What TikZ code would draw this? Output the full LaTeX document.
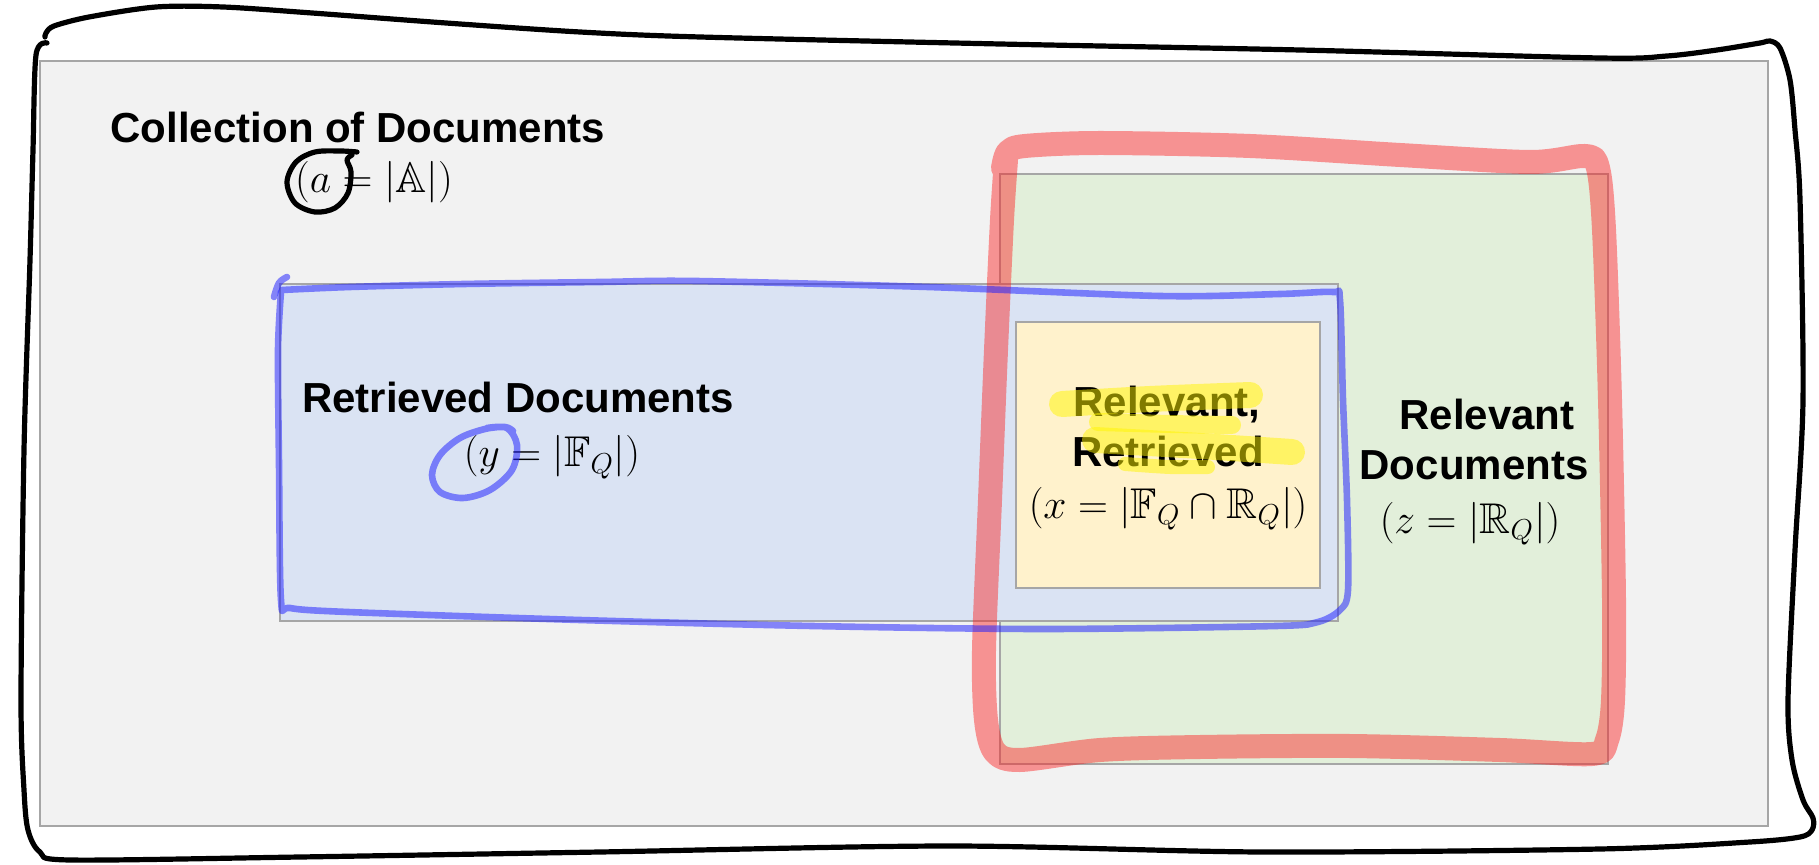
\documentclass[tikz,border=0pt]{standalone}
\usepackage{fontspec}
\setmainfont{Liberation Sans}
\usepackage{amssymb}
\definecolor{pagegray}{HTML}{F2F2F2}
\definecolor{boxline}{HTML}{A6A6A6}
\definecolor{retfill}{HTML}{DAE3F3}
\definecolor{relfill}{HTML}{E2EFDA}
\definecolor{bothfill}{HTML}{FFF2CC}
\definecolor{inkred}{RGB}{253,30,30}
\definecolor{inkblue}{RGB}{30,30,255}
\definecolor{marker}{RGB}{255,245,0}
\begin{document}
\begin{tikzpicture}[x=0.5pt,y=-0.5pt,
  box/.style={draw=boxline, line width=1.25pt},
  lbl/.style={font=\fontsize{21}{25}\selectfont\bfseries, inner sep=0pt, anchor=base},
  eq/.style={font=\fontsize{21.5}{25}\selectfont, inner sep=0pt, anchor=base},
  penblack/.style={draw=black, line width=2.6pt, line cap=round, line join=round},
  penred/.style={draw=inkred, draw opacity=0.45, line width=12pt, line cap=round, line join=round},
  penblue/.style={draw=inkblue, draw opacity=0.52, line width=3.3pt, line cap=round, line join=round},
  highlighter/.style={draw=marker, draw opacity=0.5, line width=13pt, line cap=round, line join=round}]
\useasboundingbox (0,0) rectangle (1819,865);

% sets as boxes
\fill[pagegray] (40,61) rectangle (1768,826);
\draw[box] (40,61) rectangle (1768,826);
\filldraw[box, fill=relfill] (1000,174) rectangle (1608,764);
\filldraw[box, fill=retfill] (280,284) rectangle (1338,621);
\filldraw[box, fill=bothfill] (1016,322) rectangle (1320,588);

% labels
\node[lbl] (colltxt) at (358,143) {Collection of Documents};
\node[eq]  (colleq)  at (374,193) {$(a = |\mathbb{A}|)$};
\node[lbl] (rettxt)  at (518,413) {Retrieved Documents};
\node[eq]  (reteq)   at (552,467) {$(y = \bigl|\mathbb{F}_Q\bigr|)$};
\node[lbl] (bothtxtA) at (1167,417) {Relevant,};
\node[lbl] (bothtxtB) at (1168,467) {Retrieved};
\node[eq]  (botheq)  at (1168,518) {$(x = \bigl|\mathbb{F}_Q \cap \mathbb{R}_Q\bigr|)$};
\node[lbl] (reltxtA) at (1487,430) {Relevant};
\node[lbl] (reltxtB) at (1474,480) {Documents};
\node[eq]  (releq)   at (1470,533) {$(z = \bigl|\mathbb{R}_Q\bigr|)$};

% marker over the intersection label
\draw[highlighter] plot[smooth, tension=0.5] coordinates
  {(1062,404) (1150,399) (1250,395)};
\draw[highlighter, line width=9pt] plot[smooth, tension=0.5] coordinates
  {(1098,422) (1170,424) (1232,425)};
\draw[highlighter] plot[smooth, tension=0.5] coordinates
  {(1095,440) (1200,446) (1292,452)};
\draw[highlighter, line width=7pt] plot[smooth, tension=0.5] coordinates
  {(1125,464) (1170,467) (1208,467)};

% red outline round the relevant set
\draw[penred] plot[smooth, tension=0.5] coordinates
  {(1003,168) (1008,152) (1025,146) (1100,143) (1250,146) (1400,155) (1530,162)
   (1585,156) (1598,168) (1604,230) (1610,400) (1614,600) (1613,700) (1607,740)
   (1592,754) (1500,750) (1350,746) (1200,747) (1100,750) (1020,760) (995,752)
   (986,720) (984,650) (990,500) (996,350) (1002,220) (1006,160)};

% blue outline round the retrieved set
\draw[penblue] plot[smooth, tension=0.5] coordinates
  {(282,290) (350,287) (464,284) (600,282) (696,281) (928,287) (1160,296)
   (1280,294) (1333,292) (1340,300) (1343,400) (1347,500) (1348,590) (1340,610)
   (1318,622) (1276,626) (1044,629) (812,626) (580,620) (348,612) (290,608)
   (281,600) (279,464) (278,350) (281,292)};
\draw[penblue] plot[smooth, tension=0.6] coordinates {(274,297) (279,283) (287,277)};

% ring round y
\draw[penblue] plot[smooth, tension=0.55] coordinates
  {(487,428) (507,428) (517,445) (512,470) (490,490) (463,498) (440,492)
   (432,475) (440,455) (460,438) (485,429) (505,427) (513,431)};

% black frame
\draw[penblack] plot[smooth, tension=0.5] coordinates
  {(47,43) (36,55) (33,150) (30,260) (24,450) (21,700) (24,790) (28,830) (40,852)
   (70,860) (300,857) (600,852) (950,846) (1262,852) (1600,849) (1750,842)
   (1800,837) (1812,830) (1813,818) (1803,800) (1792,760) (1788,700) (1795,550)
   (1803,400) (1800,200) (1795,130) (1790,80) (1780,48) (1770,41) (1760,43)
   (1717,50) (1667,56) (1600,58) (1300,50) (1000,44) (700,37) (580,32) (446,23)
   (312,13) (223,7) (156,7) (89,17) (54,26) (46,33) (45,37)};

% ring round a
\draw[penblack] plot[smooth, tension=0.55] coordinates
  {(357,152) (340,151) (315,152) (296,162) (287,182) (295,203) (315,212)
   (335,208) (348,193) (351,172) (347,160) (352,155)};
\end{tikzpicture}
\end{document}
